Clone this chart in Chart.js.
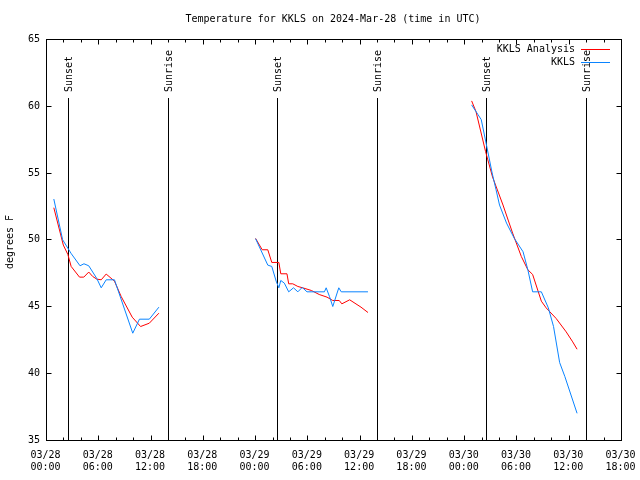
<!DOCTYPE html>
<html>
<head>
<meta charset="utf-8">
<script src="https://cdn.jsdelivr.net/npm/chart.js@4"></script>
<style>
  body { margin: 0; background: #fff; }
</style>
</head>
<body>
<canvas id="chart" width="640" height="480"></canvas>
<script>
// hours since 2024-03-28 00:00 UTC; null temp breaks the line between nights
const analysisHours = [0.84, 1.93, 2.45, 2.83, 3.79, 4.28, 4.85, 5.3, 5.77, 6.28, 6.85, 7.8, 8.57, 9.84, 10.8, 11.8, 12.9,
  18,
  24.0, 24.76, 25.4, 25.86, 26.67, 26.89, 27.6, 27.8, 28.27, 28.85, 29.4, 30.4, 31.3, 32.2, 32.86, 33.6, 33.9, 34.8, 36.1, 36.9,
  42,
  48.8, 49.3, 50.4, 51.2, 52.4, 53.5, 54.5, 55.25, 55.8, 56.8, 57.35, 58.5, 59.65, 60.4, 60.9];
const analysisTemps = [52.4, 49.6, 48.9, 48.0, 47.2, 47.2, 47.58, 47.25, 47.05, 47.0, 47.43, 46.9, 45.75, 44.2, 43.5, 43.75, 44.5,
  null,
  50.1, 49.25, 49.25, 48.3, 48.3, 47.45, 47.45, 46.7, 46.7, 46.5, 46.4, 46.2, 45.9, 45.7, 45.45, 45.45, 45.2, 45.5, 44.95, 44.55,
  null,
  60.4, 59.6, 56.6, 54.7, 52.6, 50.5, 48.75, 47.75, 47.4, 45.4, 44.9, 44.1, 43.1, 42.35, 41.8];

const obsHours = [0.84, 1.85, 2.85, 3.85, 4.3, 4.85, 5.77, 6.28, 6.85, 7.8, 9.9, 10.67, 11.8, 12.9,
  18,
  24.0, 25.4, 25.86, 26.36, 26.67, 26.89, 27.3, 27.8, 28.35, 28.85, 29.35, 29.9, 31.9, 32.1, 32.48, 32.86, 33.55, 33.83, 36.9,
  42,
  48.8, 49.5, 49.9, 50.5, 51.15, 51.6, 52.0, 52.8, 53.7, 54.7, 55.25, 55.8, 56.8, 57.6, 58.2, 58.9, 59.5, 60.9];
const obsTemps = [53.05, 50.0, 48.95, 48.05, 48.2, 48.05, 47.1, 46.4, 47.0, 47.0, 43.0, 44.05, 44.05, 44.95,
  null,
  50.08, 48.1, 48.0, 46.9, 46.4, 46.95, 46.75, 46.1, 46.4, 46.1, 46.43, 46.1, 46.1, 46.4, 45.75, 45.0, 46.4, 46.1, 46.1,
  null,
  60.1, 59.4, 59.0, 57.1, 55.0, 53.75, 52.6, 51.25, 50.1, 49.1, 47.75, 46.1, 46.1, 44.9, 43.5, 40.8, 39.75, 37.0];

const sunsetHours = [2.48, 26.5, 50.52];
const sunriseHours = [13.98, 37.95, 61.93];

const xTickHours = [0, 6, 12, 18, 24, 30, 36, 42, 48, 54, 60, 66];
const xTickDates = ['03/28', '03/28', '03/28', '03/28', '03/29', '03/29', '03/29', '03/29', '03/30', '03/30', '03/30', '03/30'];
const xTickTimes = ['00:00', '06:00', '12:00', '18:00', '00:00', '06:00', '12:00', '18:00', '00:00', '06:00', '12:00', '18:00'];
const yTickValues = [35, 40, 45, 50, 55, 60, 65];

const FONT = '10px "DejaVu Sans Mono", "Liberation Mono", monospace';

function toPoints(hours, temps) {
  return hours.map(function(h, i) { return { x: h, y: temps[i] }; });
}

function crisp(v) { return Math.floor(v) + 0.5; }

// gnuplot-like frame, ticks, labels, legend and sun markers
const gnuplotLook = {
  id: 'gnuplotLook',
  beforeDraw(chart) {
    const ctx = chart.ctx;
    ctx.save();
    ctx.fillStyle = '#fff';
    ctx.fillRect(0, 0, chart.width, chart.height);
    ctx.restore();
  },
  beforeDatasetsDraw(chart) {
    const ctx = chart.ctx;
    const x = chart.scales.x;
    const a = chart.chartArea;
    ctx.save();
    ctx.strokeStyle = '#000';
    ctx.lineWidth = 1;
    ctx.fillStyle = '#000';
    ctx.font = FONT;
    function marker(h, text) {
      const px = crisp(x.getPixelForValue(h));
      ctx.beginPath();
      ctx.moveTo(px, 98);
      ctx.lineTo(px, a.bottom);
      ctx.stroke();
      ctx.save();
      ctx.translate(px + 1, 92);
      ctx.rotate(-Math.PI / 2);
      ctx.textAlign = 'left';
      ctx.textBaseline = 'middle';
      ctx.fillText(text, 0, 0);
      ctx.restore();
    }
    sunsetHours.forEach(function(h) { marker(h, 'Sunset'); });
    sunriseHours.forEach(function(h) { marker(h, 'Sunrise'); });
    ctx.restore();
  },
  afterDatasetsDraw(chart) {
    const ctx = chart.ctx;
    const x = chart.scales.x;
    const y = chart.scales.y;
    const a = chart.chartArea;
    const L = crisp(a.left), R = crisp(a.right), T = crisp(a.top), B = crisp(a.bottom);
    ctx.save();
    ctx.strokeStyle = '#000';
    ctx.lineWidth = 1;
    ctx.strokeRect(L, T, R - L, B - T);

    ctx.beginPath();
    // minor x ticks every 2 hours
    for (let h = 0; h <= 66; h += 2) {
      const px = crisp(x.getPixelForValue(h));
      ctx.moveTo(px, B); ctx.lineTo(px, B - 3);
      ctx.moveTo(px, T); ctx.lineTo(px, T + 3);
    }
    xTickHours.forEach(function(h) {
      const px = crisp(x.getPixelForValue(h));
      ctx.moveTo(px, B); ctx.lineTo(px, B - 5);
      ctx.moveTo(px, T); ctx.lineTo(px, T + 5);
    });
    yTickValues.forEach(function(v) {
      const py = crisp(y.getPixelForValue(v));
      ctx.moveTo(L, py); ctx.lineTo(L + 5, py);
      ctx.moveTo(R, py); ctx.lineTo(R - 5, py);
    });
    ctx.stroke();

    ctx.fillStyle = '#000';
    ctx.font = FONT;
    ctx.textBaseline = 'middle';

    ctx.textAlign = 'center';
    xTickHours.forEach(function(h, i) {
      const px = x.getPixelForValue(h) - 1;
      ctx.fillText(xTickDates[i], px, 455);
      ctx.fillText(xTickTimes[i], px, 467);
    });

    ctx.textAlign = 'right';
    yTickValues.forEach(function(v) {
      ctx.fillText(String(v), 40, y.getPixelForValue(v));
    });

    ctx.textAlign = 'center';
    ctx.fillText('Temperature for KKLS on 2024-Mar-28 (time in UTC)', 333, 19);

    ctx.save();
    ctx.translate(10, 242);
    ctx.rotate(-Math.PI / 2);
    ctx.fillText('degrees F', 0, 0);
    ctx.restore();

    // legend, top right inside the frame
    chart.data.datasets.forEach(function(ds, i) {
      const ly = 49.5 + i * 13;
      ctx.textAlign = 'right';
      ctx.fillText(ds.label, 575, ly);
      ctx.strokeStyle = ds.borderColor;
      ctx.beginPath();
      ctx.moveTo(581, ly);
      ctx.lineTo(610, ly);
      ctx.stroke();
    });
    ctx.restore();
  }
};

new Chart(document.getElementById('chart'), {
  type: 'line',
  data: {
    datasets: [
      {
        label: 'KKLS Analysis',
        data: toPoints(analysisHours, analysisTemps),
        borderColor: '#ff0000',
        borderWidth: 1,
        pointRadius: 0,
        tension: 0,
        spanGaps: false,
        order: 1
      },
      {
        label: 'KKLS',
        data: toPoints(obsHours, obsTemps),
        borderColor: '#0a84ff',
        borderWidth: 1,
        pointRadius: 0,
        tension: 0,
        spanGaps: false,
        order: 0
      }
    ]
  },
  options: {
    responsive: false,
    animation: false,
    parsing: false,
    layout: { padding: { left: 46.5, right: 18.5, top: 39.5, bottom: 40 } },
    plugins: {
      legend: { display: false },
      title: { display: false },
      tooltip: { enabled: false }
    },
    scales: {
      x: { type: 'linear', min: 0, max: 66, display: false },
      y: { type: 'linear', min: 35, max: 65, display: false }
    }
  },
  plugins: [gnuplotLook]
});
</script>
</body>
</html>
